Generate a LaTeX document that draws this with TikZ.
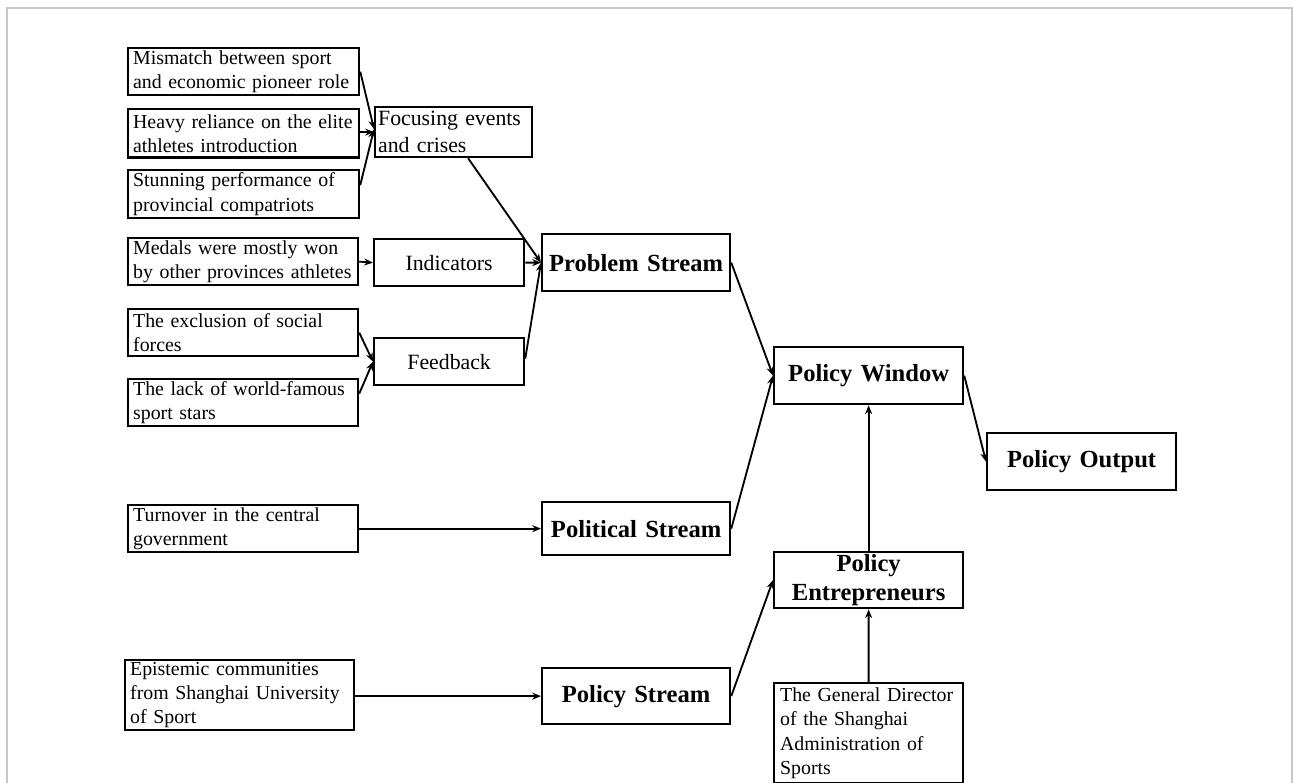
\documentclass[tikz,border=0pt]{standalone}
\usepackage{fontspec}
\setmainfont{Liberation Serif}
\usetikzlibrary{arrows.meta}
\begin{document}
\begin{tikzpicture}[x=0.02cm,y=-0.02cm,
  sbox/.style={draw=black, line width=1.3pt, anchor=north west, align=left, inner xsep=0.1cm, inner ysep=0pt, font=\fontsize{11.3}{13.8}\selectfont},
  mbox/.style={draw=black, line width=1.3pt, anchor=north west, align=center, inner xsep=0.06cm, inner ysep=0pt, font=\fontsize{12.4}{15.3}\selectfont},
  bbox/.style={draw=black, line width=1.3pt, anchor=north west, align=center, inner xsep=0.06cm, inner ysep=0pt, font=\bfseries\fontsize{14}{16.5}\selectfont},
  conn/.style={-{Stealth[length=5pt,width=4pt]}, line width=1.05pt, black}]
\useasboundingbox (0,0) rectangle (1293,783);
\draw[black!22, line width=0.6pt] (7,783) -- (7,8) -- (1292,8) -- (1292,783);

% left column
\node[sbox, text width=4.42cm, minimum height=0.94cm] (mis) at (127,47) {Mismatch between sport\\and economic pioneer role};
\node[sbox, text width=4.42cm, minimum height=0.97cm] (hea) at (127,108) {Heavy reliance on the elite\\athletes introduction};
\node[sbox, text width=4.42cm, minimum height=0.96cm] (stu) at (127,169) {Stunning performance of\\provincial compatriots};
\node[sbox, text width=4.40cm, minimum height=0.94cm] (med) at (127,237) {Medals were mostly won\\by other provinces athletes};
\node[sbox, text width=4.40cm, minimum height=0.94cm] (exc) at (127,308) {The exclusion of social\\forces};
\node[sbox, text width=4.40cm, minimum height=0.94cm] (lac) at (127,378) {The lack of world-famous\\sport stars};
\node[sbox, text width=4.40cm, minimum height=0.94cm] (tur) at (127,504) {Turnover in the central\\government};
\node[sbox, text width=4.38cm, minimum height=1.40cm] (epi) at (124,659) {Epistemic communities\\from Shanghai University\\of Sport};

% middle column
\node[mbox, align=left, text width=3.02cm, minimum height=1.0cm] (foc) at (374,106) {Focusing events\\and crises};
\node[mbox, text width=2.88cm, minimum height=0.94cm] (ind) at (373,238) {Indicators};
\node[mbox, text width=2.88cm, minimum height=0.94cm] (fee) at (373,337) {Feedback};

% streams
\node[bbox, text width=3.64cm, minimum height=1.14cm] (pro) at (541,233) {Problem Stream};
\node[bbox, text width=3.64cm, minimum height=1.06cm] (pol) at (541,501) {Political Stream};
\node[bbox, text width=3.64cm, minimum height=1.12cm] (pst) at (541,667) {Policy Stream};

% right
\node[bbox, text width=3.66cm, minimum height=1.14cm] (win) at (773,346) {Policy Window};
\node[bbox, text width=3.66cm, minimum height=1.14cm] (out) at (986,432) {Policy Output};
\node[bbox, text width=3.66cm, minimum height=1.12cm] (ent) at (773,551) {Policy\\Entrepreneurs};
\node[sbox, inner xsep=0.12cm, text width=3.54cm, minimum height=2.0cm] (gd) at (773,682) {The General Director\\of the Shanghai\\Administration of\\Sports};

% connectors
\draw[conn] (mis.east) -- ([yshift=0.06cm]foc.west);
\draw[conn] (hea.east |- foc.west) -- (foc.west);
\draw[conn] ([yshift=0.18cm]stu.east) -- ([yshift=0.06cm]foc.west);
\draw[conn] ([xshift=0.29cm]foc.south) -- (pro.west);
\draw[conn] (med.east) -- (ind.west);
\draw[conn] (ind.east) -- (pro.west);
\draw[conn] (exc.east) -- (fee.west);
\draw[conn] ([yshift=0.18cm]lac.east) -- (fee.west);
\draw[conn] ([yshift=0.06cm]fee.east) -- (pro.west);
\draw[conn] (pro.east) -- (win.west);
\draw[conn] (pol.east) -- (win.west);
\draw[conn] (win.east) -- (out.west);
\draw[conn] (tur.east |- pol.west) -- (pol.west);
\draw[conn] (epi.east |- pst.west) -- (pst.west);
\draw[conn] (pst.east) -- (ent.west);
\draw[conn] (ent.north) -- (win.south);
\draw[conn] (gd.north) -- (ent.south);
\end{tikzpicture}
\end{document}
